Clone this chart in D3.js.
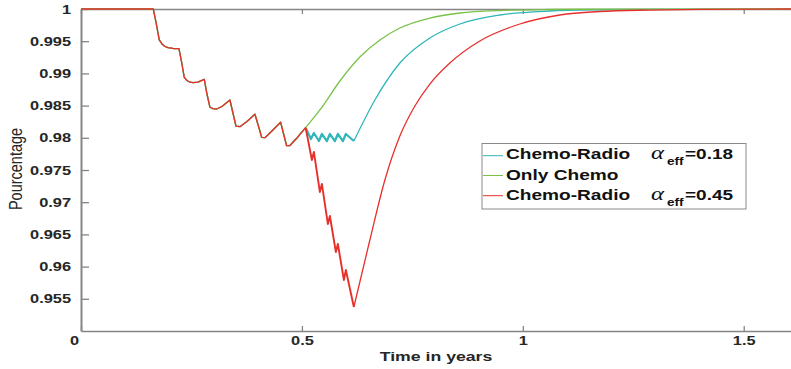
<!DOCTYPE html>
<html><head><meta charset="utf-8">
<script src="https://cdn.jsdelivr.net/npm/d3@7"></script>
<style>body{margin:0;background:#fff}</style>
</head><body>
<svg id="c" width="791" height="369"></svg>
<script>
// ---------- data ----------
const xTicks = [0, 0.5, 1, 1.5];
const xTickLabels = ["0", "0.5", "1", "1.5"];
const yTicks = [0.955, 0.96, 0.965, 0.97, 0.975, 0.98, 0.985, 0.99, 0.995, 1];
const yTickLabels = ["0.955", "0.96", "0.965", "0.97", "0.975", "0.98", "0.985", "0.99", "0.995", "1"];
const seriesNames = ["Chemo-Radio", "Only Chemo", "Chemo-Radio"];
const alphaLabels = ["=0.18", null, "=0.45"];

// shared part (chemotherapy cycles) [time, value]
const common = [
  [0, 1], [0.1636, 1], [0.1697, 0.99798], [0.1771, 0.99519], [0.1833, 0.99457], [0.19, 0.99418],
  [0.1968, 0.99399], [0.2081, 0.99387], [0.2217, 0.99384], [0.2285, 0.99146], [0.2337, 0.98939],
  [0.2398, 0.9889], [0.2466, 0.98863], [0.2534, 0.98856], [0.2647, 0.98866], [0.279, 0.98908],
  [0.2851, 0.9868], [0.2919, 0.98474], [0.2986, 0.98452], [0.307, 0.98447], [0.319, 0.98486],
  [0.3371, 0.98587], [0.3439, 0.98385], [0.3507, 0.98183], [0.3597, 0.98172], [0.3756, 0.98253],
  [0.3937, 0.98365], [0.4016, 0.98183], [0.4088, 0.98008], [0.4163, 0.98002], [0.4321, 0.98106],
  [0.4518, 0.98241], [0.4586, 0.98059], [0.4654, 0.97877], [0.4729, 0.9788], [0.4887, 0.97997],
  [0.5084, 0.98157]
];
// chemo-radio alpha 0.18 : radiotherapy weeks
const cyanTreat = [
  [0.5084, 0.98157], [0.5204, 0.97981], [0.5271, 0.98075], [0.5385, 0.9795], [0.5452, 0.98059],
  [0.5566, 0.9795], [0.5633, 0.98059], [0.5747, 0.9795], [0.5814, 0.98059], [0.5928, 0.9795],
  [0.5995, 0.98059], [0.6176, 0.9795]
];
const cyanRecover = [
  [0.6176, 0.9795], [0.6652, 0.98587], [0.7217, 0.99161], [0.7896, 0.9955], [0.8575, 0.99767],
  [0.948, 0.99907], [1.0611, 0.99969], [1.1742, 0.99988], [1.2873, 0.99995], [1.607, 1]
];
// only chemo
const greenRecover = [
  [0.5084, 0.98157], [0.5407, 0.98432], [0.586, 0.98882], [0.6312, 0.99255], [0.6765, 0.99519],
  [0.7217, 0.99705], [0.7896, 0.9986], [0.8575, 0.99938], [0.948, 0.99977], [1.0611, 0.99992],
  [1.1742, 0.99997], [1.607, 1]
];
// chemo-radio alpha 0.45
const redTreat = [
  [0.5084, 0.98157], [0.5226, 0.97655], [0.5271, 0.9778], [0.5407, 0.97158], [0.5452, 0.97283],
  [0.5588, 0.96661], [0.5633, 0.96786], [0.5769, 0.96227], [0.5814, 0.96351], [0.595, 0.95792],
  [0.5995, 0.95947], [0.6176, 0.95373]
];
const redRecover = [
  [0.6176, 0.95373], [0.6538, 0.96413], [0.6878, 0.97345], [0.7217, 0.98028], [0.7557, 0.98494],
  [0.7896, 0.98835], [0.8348, 0.99161], [0.9027, 0.99503], [0.9932, 0.99767], [1.0837, 0.99907],
  [1.1742, 0.99961], [1.2873, 0.99984], [1.4005, 0.99994], [1.607, 1]
];

const colors = ["#2fb6b9", "#79c247", "#e8302b"];
const SX = 1.3; // horizontal stretch of the reference image

// ---------- drawing ----------
const svg = d3.select("#c");
const x = d3.scaleLinear().domain([0, 1.607]).range([81, 791]);
const y = d3.scaleLinear().domain([0.95, 1]).range([331, 9]);
const FONT = "'Liberation Sans', Arial, Helvetica, sans-serif";
const axisColor = "#858585";

// axes
const gx = svg.append("g").attr("transform", "translate(0,331)")
  .call(d3.axisBottom(x).tickValues(xTicks).tickFormat((d, i) => xTickLabels[i])
    .tickSizeInner(-5).tickSizeOuter(0).tickPadding(5));
const gxt = svg.append("g").attr("transform", "translate(0,9)")
  .call(d3.axisTop(x).tickValues(xTicks).tickFormat("")
    .tickSizeInner(-5).tickSizeOuter(0));
const gy = svg.append("g").attr("transform", "translate(81,0)")
  .call(d3.axisLeft(y).tickValues(yTicks).tickFormat((d, i) => yTickLabels[i])
    .tickSizeInner(-8).tickSizeOuter(0).tickPadding(10));
[gx, gxt, gy].forEach(g => {
  g.select(".domain").attr("stroke", axisColor).attr("stroke-width", 1.6);
  g.selectAll(".tick line").attr("stroke", axisColor).attr("stroke-width", 1.3);
  g.selectAll(".tick text").attr("font-family", FONT).attr("font-weight", "bold")
    .attr("font-size", 12.6).attr("fill", "#262626");
});
gy.select(".domain").attr("stroke-width", 2);
gy.selectAll(".tick text").attr("transform", `scale(${SX},1)`).attr("x", -10 / SX);
gx.selectAll(".tick text").attr("transform", (d) => d === 0 ? `translate(-7,0) scale(${SX},1)` : `scale(${SX},1)`);

// axis titles
svg.append("text").attr("transform", `translate(436,361) scale(${SX},1)`)
  .attr("text-anchor", "middle").attr("font-family", FONT).attr("font-weight", "bold")
  .attr("font-size", 13.6).attr("fill", "#262626").text("Time in years");
svg.append("text").attr("transform", `translate(22,169) scale(${SX},1) rotate(-90)`)
  .attr("text-anchor", "middle").attr("font-family", FONT)
  .attr("font-size", 14.5).attr("fill", "#262626").text("Pourcentage");

// curves
const lin = d3.line().x(d => x(d[0])).y(d => y(d[1]));
const smooth = d3.line().curve(d3.curveMonotoneX).x(d => x(d[0])).y(d => y(d[1]));
const plot = svg.append("g");
function path(data, gen, color, w) {
  plot.append("path").attr("d", gen(data)).attr("fill", "none")
    .attr("stroke", color).attr("stroke-width", w).attr("stroke-linejoin", "round");
}
// cyan
path(common, lin, colors[0], 1.3);
path(cyanTreat, lin, colors[0], 2.2);
path(cyanRecover, smooth, colors[0], 1.3);
// green
path(common, lin, colors[1], 1.3);
path(greenRecover, smooth, colors[1], 1.3);
// red
path(common, lin, colors[2], 1.3);
path(redTreat, lin, colors[2], 1.9);
path(redRecover, smooth, colors[2], 1.3);

// legend
const lg = svg.append("g");
lg.append("rect").attr("x", 482).attr("y", 143.5).attr("width", 264).attr("height", 65.5)
  .attr("fill", "#fff").attr("stroke", "#8a8a8a").attr("stroke-width", 1);
const rowLine = [155.7, 175.5, 195.7];
const rowBase = [158.5, 179.5, 200];
seriesNames.forEach((name, i) => {
  lg.append("line").attr("x1", 483).attr("x2", 503).attr("y1", rowLine[i]).attr("y2", rowLine[i])
    .attr("stroke", colors[i]).attr("stroke-width", 1);
  lg.append("text").attr("transform", `translate(506,${rowBase[i]}) scale(${SX},1)`)
    .attr("font-family", FONT).attr("font-weight", "bold").attr("font-size", 14.7)
    .attr("fill", "#111").text(name);
  if (alphaLabels[i]) {
    lg.append("text").attr("transform", `translate(651,${rowBase[i]}) scale(${SX},1)`)
      .attr("font-family", "'Liberation Serif', 'Times New Roman', serif").attr("font-style", "italic")
      .attr("font-size", 19).attr("fill", "#111").text("α");
    lg.append("text").attr("transform", `translate(667,${rowBase[i] + 6}) scale(${SX},1)`)
      .attr("font-family", FONT).attr("font-weight", "bold").attr("font-size", 10.5)
      .attr("fill", "#111").text("eff");
    lg.append("text").attr("transform", `translate(685,${rowBase[i]}) scale(${SX},1)`)
      .attr("font-family", FONT).attr("font-weight", "bold").attr("font-size", 14.6)
      .attr("fill", "#111").text(alphaLabels[i]);
  }
});
</script>
</body></html>
